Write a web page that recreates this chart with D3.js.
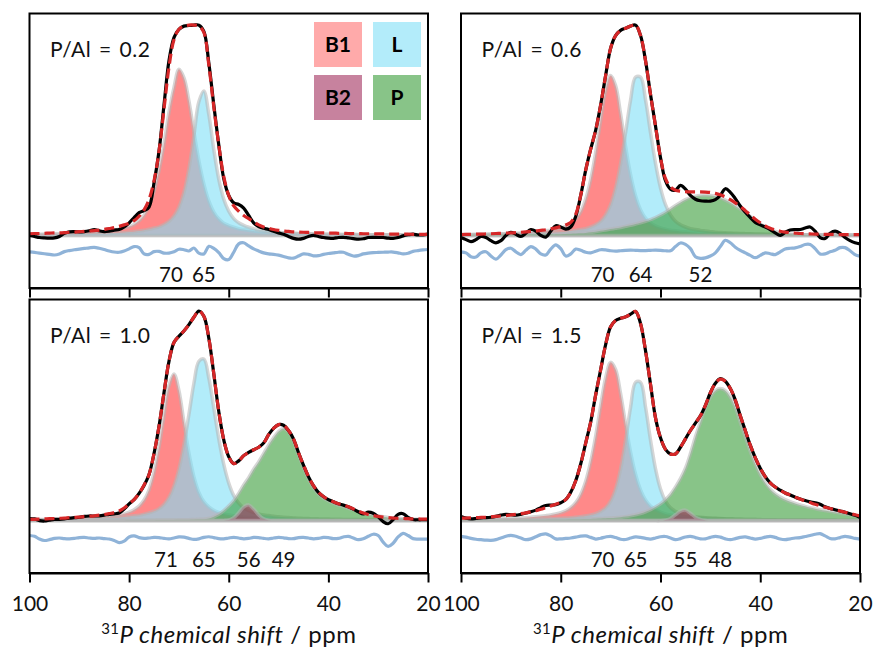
<!DOCTYPE html>
<html><head><meta charset="utf-8">
<script src="https://cdn.jsdelivr.net/npm/d3@7"></script>
<style>body{margin:0;background:#fff}text{font-family:Lato,"Open Sans",sans-serif}</style>
</head><body><svg id="c" width="874" height="655"></svg>
<script>
// chemical shift grid (ppm), 100 -> 20
const ppm = [100,99,98,97,96,95,94,93,92,91,
 90,89,88,87,86,85,84,83,82,81,
 80,79,78,77,76,75,74,73,72,71,
 70,69,68,67,66,65,64,63,62,61,
 60,59,58,57,56,55,54,53,52,51,
 50,49,48,47,46,45,44,43,42,41,
 40,39,38,37,36,35,34,33,32,31,
 30,29,28,27,26,25,24,23,22,21,
 20];
const xTicks = [100, 80, 60, 40, 20];
const panelLabels = ["P/Al = 0.2", "P/Al = 0.6", "P/Al = 1.0", "P/Al = 1.5"];
const legendKeys = ["B1", "L", "B2", "P"];
const peaks1 = ["70", "65"];
const peaks2 = ["70", "64", "52"];
const peaks3 = ["71", "65", "56", "49"];
const peaks4 = ["70", "65", "55", "48"];

// ---------- P/Al = 0.2 ----------
const exp1 = [0.00,-0.005,-0.01,-0.012,-0.013,-0.012,-0.005,0.01,0.017,0.018,
0.017,0.018,0.022,0.028,0.022,0.018,0.02,0.025,0.028,0.04,
0.06,0.085,0.108,0.118,0.135,0.25,0.40,0.62,0.83,0.94,
0.98,0.995,0.998,1.0,1.0,0.97,0.82,0.62,0.43,0.27,
0.19,0.155,0.147,0.13,0.095,0.06,0.042,0.034,0.028,0.02,
0.012,0.005,-0.005,-0.014,-0.018,-0.014,-0.005,0.0,-0.005,-0.01,
-0.013,-0.014,-0.01,-0.009,-0.012,-0.015,-0.018,-0.016,-0.01,-0.009,
-0.01,-0.01,-0.013,-0.014,-0.01,-0.002,0.003,0.006,0.002,0.003,
0.006];
const fit1 = [0.008,0.009,0.009,0.01,0.011,0.012,0.012,0.013,0.015,0.016,
0.018,0.019,0.021,0.023,0.025,0.029,0.033,0.037,0.043,0.05,
0.058,0.07,0.091,0.121,0.171,0.26,0.40,0.60,0.80,0.93,
0.98,0.995,1.0,1.0,0.995,0.965,0.81,0.61,0.43,0.28,
0.19,0.14,0.115,0.095,0.08,0.065,0.05,0.04,0.034,0.028,
0.024,0.021,0.019,0.017,0.016,0.015,0.014,0.013,0.012,0.012,
0.011,0.011,0.01,0.01,0.009,0.009,0.009,0.008,0.008,0.008,
0.007,0.007,0.007,0.006,0.006,0.006,0.006,0.005,0.005,0.005,
0.005];
const b1_1 = [0.005,0.0055,0.006,0.0065,0.007,0.0075,0.008,0.009,0.010,0.011,
0.012,0.013,0.014,0.016,0.017,0.020,0.023,0.026,0.030,0.036,
0.042,0.052,0.07,0.096,0.142,0.209,0.308,0.435,0.585,0.703,
0.79,0.75,0.64,0.494,0.356,0.245,0.164,0.111,0.079,0.058,
0.047,0.039,0.032,0.028,0.024,0.021,0.018,0.016,0.015,0.013,
0.012,0.011,0.010,0.009,0.0085,0.008,0.0075,0.007,0.0065,0.006,
0.0055,0.005,0.005,0.0045,0.0045,0.004,0.004,0.004,0.0035,0.0035,
0.003,0.003,0.003,0.003,0.003,0.003,0.003,0.003,0.003,0.003,
0.003];
const l_1 = [0.0032,0.0033,0.0035,0.0037,0.004,0.0042,0.0044,0.0047,0.005,0.0054,
0.0058,0.0063,0.0068,0.0074,0.008,0.0088,0.010,0.011,0.0125,0.014,
0.016,0.018,0.021,0.025,0.029,0.035,0.041,0.052,0.067,0.092,
0.134,0.204,0.317,0.473,0.635,0.687,0.575,0.407,0.266,0.172,
0.115,0.080,0.060,0.048,0.039,0.032,0.026,0.023,0.019,0.017,
0.015,0.013,0.012,0.010,0.0095,0.0085,0.0078,0.0072,0.0066,0.006,
0.0056,0.0052,0.0048,0.0045,0.0042,0.004,0.0037,0.0035,0.0033,0.0031,
0.003,0.0029,0.0028,0.0027,0.0026,0.0025,0.0024,0.0023,0.0022,0.0021,
0.002];
const res1 = [-0.008,-0.011,-0.014,-0.017,-0.02,-0.023,-0.018,-0.007,-0.002,0.002,
0.005,0.008,0.011,0.013,0.009,0.003,-0.004,-0.009,-0.01,-0.004,
0.006,0.017,0.012,-0.018,-0.02,-0.007,-0.006,-0.014,-0.014,-0.008,
0.004,0.002,-0.004,0.01,-0.014,-0.018,0.018,0.008,-0.012,-0.04,
-0.045,-0.01,0.03,0.035,0.02,0.006,-0.004,-0.013,-0.018,-0.02,
-0.024,-0.03,-0.037,-0.038,-0.028,-0.018,-0.02,-0.027,-0.026,-0.02,
-0.016,-0.013,-0.01,-0.01,-0.02,-0.028,-0.026,-0.018,-0.014,-0.012,
-0.011,-0.01,-0.009,-0.009,-0.013,-0.018,-0.015,-0.006,-0.002,0.001,
0.003];

// ---------- P/Al = 0.6 ----------
const exp2 = [-0.01,-0.02,-0.03,-0.02,-0.005,-0.01,-0.025,-0.035,-0.025,0.0,
0.015,0.005,-0.005,0.01,0.028,0.02,0.0,-0.008,0.02,0.046,
0.04,0.03,0.04,0.09,0.19,0.31,0.41,0.5,0.62,0.76,
0.89,0.95,0.975,0.985,0.995,1.0,0.95,0.83,0.67,0.52,
0.37,0.26,0.22,0.215,0.238,0.22,0.19,0.172,0.165,0.163,
0.163,0.17,0.19,0.222,0.205,0.175,0.14,0.11,0.085,0.062,
0.05,0.04,0.028,0.012,0.0,0.015,0.026,0.028,0.028,0.035,
0.04,0.02,-0.01,-0.015,0.01,0.02,0.01,-0.01,-0.025,-0.035,
-0.04];
const fit2 = [0.004,0.005,0.005,0.006,0.006,0.007,0.008,0.009,0.01,0.011,
0.012,0.013,0.015,0.017,0.019,0.021,0.024,0.027,0.031,0.036,
0.042,0.05,0.062,0.1,0.19,0.31,0.41,0.5,0.62,0.76,
0.89,0.95,0.975,0.985,0.995,1.0,0.95,0.83,0.67,0.52,
0.37,0.27,0.23,0.215,0.21,0.208,0.207,0.207,0.207,0.206,
0.204,0.2,0.193,0.183,0.17,0.155,0.138,0.118,0.097,0.077,
0.06,0.045,0.034,0.026,0.02,0.016,0.013,0.011,0.009,0.008,
0.007,0.006,0.006,0.005,0.005,0.005,0.004,0.004,0.004,0.004,
0.004];
const b1_2 = [0.0043,0.0045,0.0048,0.0051,0.0055,0.006,0.0065,0.007,0.0077,0.0085,
0.0095,0.0105,0.0115,0.0128,0.0145,0.0165,0.019,0.022,0.025,0.029,
0.035,0.043,0.055,0.077,0.112,0.173,0.265,0.394,0.547,0.689,
0.76,0.712,0.578,0.423,0.289,0.188,0.122,0.082,0.059,0.045,
0.036,0.030,0.025,0.022,0.019,0.017,0.0145,0.013,0.0115,0.0105,
0.0095,0.0087,0.008,0.0074,0.0068,0.0061,0.0057,0.0053,0.005,0.0047,
0.0043,0.004,0.0038,0.0036,0.0034,0.0032,0.003,0.0029,0.0028,0.0027,
0.0026,0.0025,0.0024,0.0023,0.0022,0.0021,0.0021,0.002,0.002,0.0019,
0.0019];
const l_2 = [0.0031,0.0033,0.0035,0.0037,0.004,0.0042,0.0045,0.0048,0.0052,0.0056,
0.006,0.0065,0.0073,0.0079,0.0085,0.0092,0.010,0.011,0.0123,0.0138,
0.015,0.018,0.021,0.024,0.028,0.032,0.040,0.051,0.067,0.097,
0.146,0.226,0.342,0.489,0.644,0.752,0.752,0.644,0.489,0.342,
0.226,0.146,0.097,0.067,0.051,0.040,0.032,0.028,0.024,0.021,
0.018,0.015,0.0138,0.0123,0.011,0.010,0.0092,0.0085,0.0079,0.0073,
0.0065,0.006,0.0056,0.0052,0.0048,0.0045,0.0042,0.004,0.0037,0.0035,
0.0033,0.0031,0.003,0.0029,0.0028,0.0027,0.0025,0.0024,0.0023,0.0022,
0.0021];
const p_2 = [0.002,0.002,0.002,0.003,0.003,0.003,0.003,0.003,0.004,0.004,
0.004,0.004,0.004,0.005,0.005,0.005,0.005,0.005,0.005,0.005,
0.006,0.007,0.008,0.009,0.01,0.012,0.015,0.018,0.022,0.026,
0.03,0.034,0.038,0.043,0.048,0.054,0.06,0.067,0.075,0.085,
0.097,0.11,0.126,0.142,0.157,0.17,0.18,0.186,0.19,0.191,
0.19,0.186,0.178,0.168,0.155,0.14,0.125,0.108,0.09,0.072,
0.055,0.04,0.028,0.019,0.013,0.009,0.006,0.004,0.003,0.002,
0.002,0.001,0.001,0.001,0.001,0.001,0.001,0.001,0.001,0.001,
0.001];
const res2 = [0.005,0.0,-0.018,-0.02,0.0,0.005,-0.015,-0.03,-0.01,0.015,
0.022,0.005,-0.008,0.012,0.03,0.018,-0.005,-0.01,0.018,0.038,
0.02,-0.015,-0.005,0.018,0.012,0.003,0.0,0.008,0.015,0.014,
0.01,0.008,0.01,0.012,0.013,0.012,0.011,0.011,0.012,0.013,
0.012,0.01,0.01,0.03,0.047,0.04,0.02,-0.018,-0.026,-0.024,
-0.015,0.0,0.03,0.06,0.048,0.027,0.012,0.0,-0.012,-0.023,
-0.012,0.0,-0.004,-0.008,0.005,0.018,0.022,0.024,0.03,0.04,
0.04,0.02,-0.005,-0.005,0.005,0.012,0.025,0.025,0.01,-0.008,
-0.016];

// ---------- P/Al = 1.0 ----------
const exp3 = [0.01,0.008,0.0,-0.002,0.002,0.006,0.006,0.008,0.012,0.014,
0.016,0.02,0.022,0.022,0.023,0.026,0.03,0.032,0.036,0.055,
0.08,0.1,0.13,0.168,0.22,0.32,0.45,0.61,0.76,0.85,
0.88,0.905,0.935,0.97,1.0,0.975,0.87,0.7,0.52,0.385,
0.305,0.272,0.285,0.31,0.325,0.338,0.35,0.37,0.41,0.44,
0.458,0.455,0.43,0.39,0.325,0.265,0.21,0.167,0.135,0.115,
0.1,0.09,0.08,0.074,0.066,0.055,0.042,0.032,0.04,0.035,
0.018,-0.005,-0.015,0.005,0.03,0.033,0.015,0.005,0.004,0.004,
0.004];
const fit3 = [0.006,0.006,0.007,0.008,0.009,0.01,0.011,0.012,0.014,0.015,
0.017,0.019,0.021,0.023,0.026,0.029,0.033,0.038,0.046,0.06,
0.08,0.1,0.13,0.17,0.22,0.32,0.45,0.61,0.76,0.85,
0.88,0.905,0.935,0.97,1.0,0.975,0.87,0.7,0.52,0.385,
0.305,0.272,0.285,0.31,0.325,0.338,0.35,0.37,0.41,0.44,
0.458,0.455,0.43,0.39,0.325,0.265,0.21,0.167,0.135,0.115,
0.1,0.09,0.08,0.074,0.066,0.056,0.045,0.036,0.029,0.024,
0.02,0.017,0.014,0.012,0.011,0.01,0.009,0.008,0.008,0.007,
0.007];
const b1_3 = [0.0042,0.0045,0.0048,0.0052,0.0056,0.006,0.0066,0.0072,0.0079,0.0087,
0.0096,0.0107,0.012,0.0133,0.015,0.017,0.02,0.023,0.027,0.033,
0.04,0.052,0.069,0.098,0.147,0.23,0.35,0.502,0.645,0.70,
0.62,0.47,0.323,0.21,0.135,0.091,0.066,0.049,0.039,0.032,
0.027,0.023,0.0195,0.017,0.015,0.0133,0.012,0.0107,0.0096,0.0087,
0.0079,0.0072,0.0066,0.006,0.0056,0.0052,0.0048,0.0045,0.0042,0.0039,
0.0037,0.0035,0.0033,0.0031,0.0029,0.0028,0.0026,0.0025,0.0024,0.0023,
0.0022,0.0021,0.002,0.002,0.0019,0.0018,0.0018,0.0017,0.0017,0.0016,
0.0016];
const l_3 = [0.0037,0.0039,0.0041,0.0043,0.0046,0.005,0.0053,0.0057,0.006,0.0065,
0.0072,0.0078,0.0085,0.0093,0.0102,0.011,0.012,0.0135,0.015,0.017,
0.02,0.023,0.026,0.031,0.037,0.045,0.057,0.077,0.111,0.165,
0.247,0.363,0.506,0.654,0.76,0.771,0.68,0.536,0.39,0.268,
0.179,0.119,0.083,0.061,0.047,0.038,0.032,0.027,0.024,0.021,
0.018,0.016,0.0145,0.013,0.0118,0.0105,0.0097,0.009,0.0083,0.0077,
0.0072,0.0067,0.0062,0.0058,0.0054,0.005,0.0047,0.0044,0.0042,0.0039,
0.0037,0.0035,0.0033,0.0031,0.003,0.0028,0.0027,0.0025,0.0024,0.0023,
0.0022];
const b2_3 = [0,0,0,0,0,0,0,0,0,0,
0,0,0,0,0,0,0,0,0,0,
0,0,0,0,0,0,0,0,0,0,
0,0,0,0,0,0,0,0,0,0.001,
0.0034,0.014,0.0375,0.065,0.075,0.055,0.027,0.0084,0.0017,0.0005,
0,0,0,0,0,0,0,0,0,0,
0,0,0,0,0,0,0,0,0,0,
0,0,0,0,0,0,0,0,0,0,
0];
const p_3 = [0.001,0.001,0.001,0.001,0.001,0.001,0.001,0.001,0.001,0.001,
0.001,0.001,0.001,0.001,0.001,0.001,0.001,0.001,0.001,0.001,
0.0012,0.0014,0.0016,0.0018,0.002,0.0022,0.0025,0.0028,0.003,0.0033,
0.0036,0.004,0.0045,0.0052,0.006,0.007,0.01,0.018,0.03,0.048,
0.07,0.095,0.13,0.17,0.205,0.245,0.28,0.32,0.36,0.395,
0.425,0.44,0.425,0.38,0.315,0.255,0.2,0.158,0.128,0.108,
0.095,0.083,0.074,0.067,0.059,0.052,0.043,0.036,0.03,0.026,
0.022,0.018,0.015,0.013,0.011,0.009,0.008,0.007,0.006,0.005,
0.005];
const res3 = [0.012,0.008,-0.005,-0.012,-0.008,-0.002,0.0,-0.003,-0.004,-0.002,
0.002,0.003,0.0,-0.002,0.0,-0.003,-0.005,-0.012,-0.022,-0.015,
0.005,0.01,0.002,-0.002,0.0,0.003,0.002,-0.002,-0.004,0.0,
0.005,0.004,-0.002,-0.007,-0.004,0.003,0.006,0.002,-0.003,-0.004,
0.0,0.003,0.0,-0.004,-0.002,0.003,0.002,-0.002,-0.004,0.0,
0.003,0.001,-0.003,-0.003,0.002,0.003,0.0,-0.004,-0.002,0.003,
0.002,-0.003,-0.002,0.005,0.008,0.0,-0.008,-0.004,0.008,0.018,
0.012,-0.02,-0.04,-0.025,0.005,0.022,0.012,-0.003,-0.005,-0.005,
-0.005];

// ---------- P/Al = 1.5 ----------
const exp4 = [0.02,0.012,0.008,0.01,0.013,0.014,0.016,0.02,0.026,0.03,
0.028,0.026,0.03,0.036,0.042,0.05,0.062,0.072,0.074,0.076,
0.085,0.1,0.135,0.19,0.27,0.37,0.47,0.6,0.72,0.84,
0.925,0.955,0.965,0.972,0.985,0.998,0.94,0.81,0.65,0.49,
0.395,0.34,0.318,0.318,0.35,0.39,0.43,0.465,0.5,0.55,
0.61,0.655,0.678,0.665,0.63,0.575,0.5,0.43,0.36,0.3,
0.25,0.21,0.18,0.16,0.145,0.132,0.122,0.112,0.103,0.096,
0.09,0.085,0.078,0.066,0.058,0.052,0.046,0.04,0.033,0.025,
0.015];
const fit4 = [0.012,0.012,0.013,0.014,0.015,0.016,0.018,0.02,0.022,0.024,
0.027,0.03,0.033,0.037,0.042,0.047,0.054,0.062,0.07,0.078,
0.088,0.1,0.135,0.19,0.27,0.37,0.47,0.6,0.72,0.84,
0.925,0.955,0.965,0.972,0.985,0.998,0.94,0.81,0.65,0.49,
0.395,0.34,0.318,0.318,0.35,0.39,0.43,0.465,0.5,0.55,
0.61,0.655,0.675,0.665,0.63,0.575,0.5,0.43,0.36,0.3,
0.25,0.21,0.18,0.16,0.145,0.132,0.122,0.112,0.103,0.094,
0.086,0.078,0.071,0.064,0.058,0.052,0.046,0.04,0.034,0.028,
0.022];
const b1_4 = [0.0048,0.005,0.0054,0.0058,0.0062,0.0068,0.0074,0.008,0.0088,0.0096,
0.0104,0.0115,0.0127,0.014,0.016,0.018,0.0205,0.0235,0.027,0.032,
0.038,0.047,0.062,0.086,0.125,0.188,0.281,0.404,0.548,0.682,
0.755,0.721,0.606,0.461,0.327,0.221,0.147,0.099,0.07,0.053,
0.041,0.032,0.027,0.0235,0.0205,0.018,0.016,0.014,0.0127,0.0115,
0.0104,0.0096,0.0088,0.008,0.0074,0.0068,0.0062,0.0058,0.0054,0.005,
0.0048,0.0045,0.0042,0.004,0.0038,0.0036,0.0034,0.0032,0.0031,0.003,
0.0028,0.0027,0.0026,0.0025,0.0024,0.0023,0.0022,0.0021,0.002,0.0019,
0.0018];
const l_4 = [0.0021,0.0022,0.0024,0.0025,0.0027,0.0029,0.003,0.0033,0.0035,0.0038,
0.0041,0.0044,0.0047,0.0051,0.0056,0.0062,0.0069,0.0077,0.0085,0.0096,
0.0107,0.0122,0.014,0.0163,0.019,0.0225,0.027,0.033,0.044,0.061,
0.093,0.151,0.247,0.384,0.541,0.66,0.66,0.541,0.384,0.247,
0.151,0.093,0.061,0.044,0.033,0.027,0.0225,0.019,0.0163,0.014,
0.0122,0.0107,0.0096,0.0085,0.0077,0.0069,0.0062,0.0056,0.0051,0.0047,
0.0044,0.0041,0.0038,0.0035,0.0033,0.003,0.0029,0.0027,0.0025,0.0024,
0.0022,0.0021,0.002,0.0019,0.0018,0.0017,0.0016,0.0016,0.0015,0.0014,
0.0014];
const b2_4 = [0,0,0,0,0,0,0,0,0,0,
0,0,0,0,0,0,0,0,0,0,
0,0,0,0,0,0,0,0,0,0,
0,0,0,0,0,0,0,0,0,0,
0,0.003,0.01,0.028,0.045,0.05,0.035,0.016,0.006,0.002,
0.0005,0,0,0,0,0,0,0,0,0,
0,0,0,0,0,0,0,0,0,0,
0,0,0,0,0,0,0,0,0,0,
0];
const p_4 = [0.003,0.003,0.003,0.0032,0.0033,0.0034,0.0035,0.0036,0.0037,0.0038,
0.0039,0.004,0.0041,0.0042,0.0043,0.0044,0.0045,0.0046,0.0047,0.0048,
0.005,0.0055,0.006,0.0065,0.007,0.0075,0.008,0.009,0.01,0.011,
0.012,0.014,0.016,0.019,0.023,0.028,0.034,0.042,0.052,0.065,
0.08,0.1,0.125,0.16,0.2,0.25,0.32,0.40,0.47,0.54,
0.59,0.62,0.63,0.62,0.59,0.54,0.47,0.40,0.33,0.27,
0.22,0.18,0.15,0.128,0.112,0.1,0.09,0.082,0.075,0.068,
0.062,0.057,0.052,0.048,0.044,0.04,0.036,0.032,0.028,0.024,
0.02];
const res4 = [0.008,0.004,-0.002,-0.006,-0.008,-0.01,-0.011,-0.008,0.0,0.008,
0.013,0.008,0.0,-0.008,-0.004,0.006,0.016,0.02,0.01,-0.004,
-0.004,-0.002,0.0,0.004,0.009,0.01,0.003,-0.005,-0.001,0.005,
0.008,0.002,-0.006,-0.007,0.0,0.005,0.003,-0.002,-0.005,0.0,
0.006,0.007,0.0,-0.008,-0.003,0.005,0.008,0.002,-0.004,-0.004,
0.003,0.008,0.004,-0.004,-0.008,-0.003,0.003,0.005,0.0,-0.005,
-0.002,0.004,0.008,0.003,-0.005,-0.008,-0.004,0.0,0.002,0.007,
0.012,0.018,0.021,0.01,-0.002,-0.004,0.002,0.008,0.004,-0.002,
-0.005];

// ---------- styles ----------
const compFill = {B1: "#ff3b3b", L: "#7fdff7", B2: "#a22f5d", P: "#399d39"};
const legendFill = {B1: "#ffaaaa", L: "#b3ecfa", B2: "#c7829e", P: "#88c488"};

const panels = [
  {label: panelLabels[0], exp: exp1, fit: fit1, res: res1, resOff: -0.07,
   comps: [["B1", b1_1], ["L", l_1]], peaks: peaks1},
  {label: panelLabels[1], exp: exp2, fit: fit2, res: res2, resOff: -0.083,
   comps: [["B1", b1_2], ["L", l_2], ["P", p_2]], peaks: peaks2},
  {label: panelLabels[2], exp: exp3, fit: fit3, res: res3, resOff: -0.083,
   comps: [["B1", b1_3], ["L", l_3], ["P", p_3], ["B2", b2_3]], peaks: peaks3},
  {label: panelLabels[3], exp: exp4, fit: fit4, res: res4, resOff: -0.083,
   comps: [["B1", b1_4], ["L", l_4], ["P", p_4], ["B2", b2_4]], peaks: peaks4}
];

const svg = d3.select("#c");
const cols = [[29.5, 428], [461, 860]];
const rows = [[13.5, 288], [299.5, 573]];
const yDomain = [-0.25, 1.055];

panels.forEach((p, i) => {
  const [x0, x1] = cols[i % 2];
  const [y0, y1] = rows[Math.floor(i / 2)];
  const isBottom = i >= 2;
  const x = d3.scaleLinear().domain([100, 20]).range([x0, x1]);
  const y = d3.scaleLinear().domain(yDomain).range([y1, y0]);
  const g = svg.append("g");
  g.append("clipPath").attr("id", "clip" + i).append("rect")
    .attr("x", x0).attr("y", y0).attr("width", x1 - x0).attr("height", y1 - y0);
  const plot = g.append("g").attr("clip-path", `url(#clip${i})`);

  const area = d3.area().x((d, j) => x(ppm[j])).y0(y(0)).y1(d => y(d))
    .curve(d3.curveCatmullRom);
  p.comps.forEach(([key, vals]) => {
    plot.append("path").datum(vals).attr("d", area)
      .attr("fill", compFill[key]).attr("fill-opacity", 0.6)
      .attr("stroke", "#b5b5b5").attr("stroke-opacity", 0.55)
      .attr("stroke-width", 3.5).attr("stroke-linejoin", "round");
  });

  const line = d3.line().x((d, j) => x(ppm[j])).y(d => y(d)).curve(d3.curveCatmullRom);
  const resLine = d3.line().x((d, j) => x(ppm[j])).y(d => y(d + p.resOff)).curve(d3.curveCatmullRom);
  plot.append("path").datum(p.res).attr("d", resLine).attr("fill", "none")
    .attr("stroke", "#8fb3d8").attr("stroke-width", 3.2);
  plot.append("path").datum(p.exp).attr("d", line).attr("fill", "none")
    .attr("stroke", "#000").attr("stroke-width", 3.2).attr("stroke-linejoin", "round");
  plot.append("path").datum(p.fit).attr("d", line).attr("fill", "none")
    .attr("stroke", "#d62728").attr("stroke-width", 3.2).attr("stroke-dasharray", "10,5");

  // peak labels
  p.peaks.forEach((lab, k) => {
    g.append("text").attr("x", x(+lab) + (k === 0 ? -8 : 0)).attr("y", y1 - 6)
      .attr("text-anchor", "middle").attr("font-size", 20.5).attr("fill", "#111").text(lab);
  });

  // panel label
  g.append("text").attr("x", x0 + 20.5).attr("y", y0 + 43.5)
    .attr("font-size", 21).attr("fill", "#111").attr("letter-spacing", 0.5)
    .attr("word-spacing", 2).text(p.label);

  // axis
  const axis = d3.axisBottom(x).tickValues(xTicks).tickSize(9.5).tickSizeOuter(0).tickPadding(14)
    .tickFormat(isBottom ? d3.format("d") : () => "");
  const ax = g.append("g").attr("transform", `translate(0,${y1})`).call(axis);
  ax.select(".domain").attr("stroke-width", 2);
  ax.selectAll(".tick line").attr("stroke-width", 2);
  ax.selectAll(".tick text").attr("font-size", 21).attr("fill", "#111")
    .style("font-family", "Lato, 'Open Sans', sans-serif");

  // frame
  g.append("rect").attr("x", x0).attr("y", y0).attr("width", x1 - x0).attr("height", y1 - y0)
    .attr("fill", "none").attr("stroke", "#000").attr("stroke-width", 2);

  if (isBottom) {
    const t = g.append("text").attr("x", (x0 + x1) / 2).attr("y", 643)
      .attr("text-anchor", "middle").attr("font-size", 24).attr("letter-spacing", 0.5)
      .attr("fill", "#111");
    t.append("tspan").attr("font-size", 15).attr("dy", -9).text("31");
    t.append("tspan").attr("dy", 9).attr("font-style", "italic").text("P chemical shift");
    t.append("tspan").text(" / ppm");
  }

  if (i === 0) {
    const boxX = [314, 373], boxY = [22, 75];
    legendKeys.forEach((k, j) => {
      const bx = boxX[j % 2], by = boxY[Math.floor(j / 2)];
      g.append("rect").attr("x", bx).attr("y", by).attr("width", 48).attr("height", 45)
        .attr("fill", legendFill[k]);
      g.append("text").attr("x", bx + 24).attr("y", by + 30).attr("text-anchor", "middle")
        .attr("font-size", 21).attr("font-weight", "bold").attr("fill", "#000").text(k);
    });
  }
});
</script>
</body></html>
